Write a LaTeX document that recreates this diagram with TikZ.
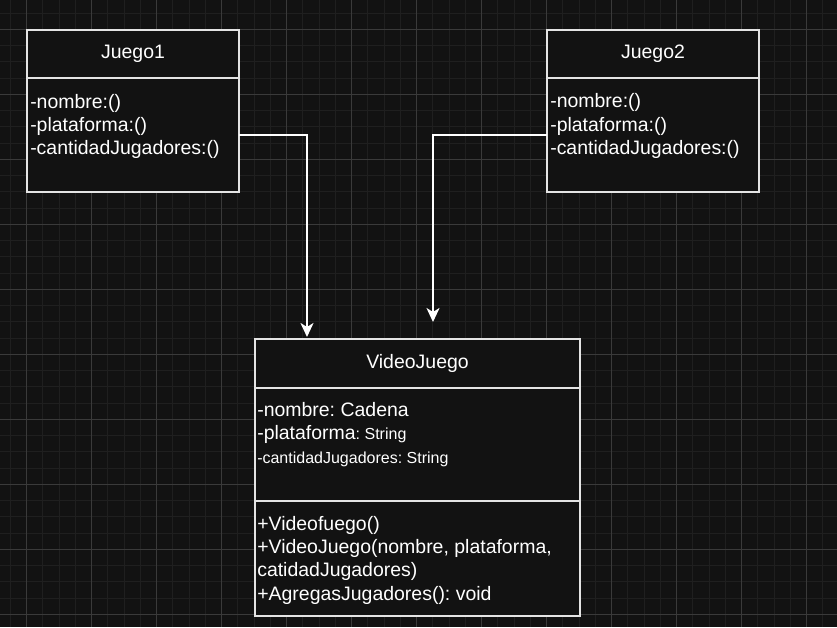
\documentclass[tikz,border=0pt]{standalone}
\usepackage{fontspec}
\setmainfont{Liberation Sans}
\usetikzlibrary{positioning,arrows.meta}

\definecolor{canvasbg}{RGB}{18,18,18}
\definecolor{minorgrid}{RGB}{31,31,31}
\definecolor{majorgrid}{RGB}{58,58,58}
\definecolor{umlline}{RGB}{228,228,228}

\newdimen\upx
\upx=0.75pt
\newcommand{\umlfont}{\fontsize{14.6}{17.5}\selectfont}
\newcommand{\umlsmall}{\fontsize{12}{17.5}\selectfont}
\frenchspacing

\tikzstyle{umlbox} = [rectangle, draw=umlline, fill=canvasbg, line width=1.5pt,
    outer sep=0pt, inner sep=0pt, text=white, font=\umlfont]
\tikzstyle{umltext} = [anchor=base west, align=left, inner sep=0pt,
    text=white, font=\umlfont]
\tikzstyle{arrow} = [draw=white, line width=1.5pt,
    -{Stealth[length=10.5pt, width=9.75pt, inset=3pt]}]

\begin{document}
\begin{tikzpicture}[x=0.75pt, y=-0.75pt]

    % Canvas and grid
    \useasboundingbox (0,0) rectangle (837,627);
    \fill [canvasbg] (0,0) rectangle (837,627);
    \foreach \i in {0,...,51}
        \draw [minorgrid, line width=0.75pt] ({10.45+16.25*\i},0) -- ({10.45+16.25*\i},627);
    \foreach \j in {0,...,38}
        \draw [minorgrid, line width=0.75pt] (0,{13.05+16.25*\j}) -- (837,{13.05+16.25*\j});
    \foreach \i in {0,...,12}
        \draw [majorgrid, line width=0.75pt] ({26.7+65*\i},0) -- ({26.7+65*\i},627);
    \foreach \j in {0,...,9}
        \draw [majorgrid, line width=0.75pt] (0,{29.3+65*\j}) -- (837,{29.3+65*\j});

    % Place nodes
    \node [umlbox, minimum width=212\upx, minimum height=48\upx] (juego1) at (133,54) {Juego1};
    \node [umlbox, minimum width=212\upx, minimum height=114\upx, below=0pt of juego1] (juego1attr) {};
    \node [umltext] (juego1list) at ([xshift=3\upx, yshift=-77\upx] juego1attr.north west)
        {-nombre:()\\-plataforma:()\\-cantidadJugadores:()};

    \node [umlbox, minimum width=212\upx, minimum height=48\upx] (juego2) at (653,54) {Juego2};
    \node [umlbox, minimum width=212\upx, minimum height=114\upx, below=0pt of juego2] (juego2attr) {};
    \node [umltext] (juego2list) at ([xshift=3\upx, yshift=-76.5\upx] juego2attr.north west)
        {-nombre:()\\-plataforma:()\\-cantidadJugadores:()};

    \node [umlbox, minimum width=325\upx, minimum height=49\upx] (videojuego) at (417.5,363.5) {VideoJuego};
    \node [umlbox, minimum width=325\upx, minimum height=113\upx, below=0pt of videojuego] (videoattr) {};
    \node [umlbox, minimum width=325\upx, minimum height=115\upx, below=0pt of videoattr] (videoops) {};
    \node [umltext] (videoattrlist) at ([xshift=2\upx, yshift=-75.3\upx] videoattr.north west)
        {-nombre: Cadena\\-plataforma{\umlsmall: String}\\{\umlsmall-cantidadJugadores: String}};
    \node [umltext] (videoopslist) at ([xshift=2\upx, yshift=-99\upx] videoops.north west)
        {+Videofuego()\\+VideoJuego(nombre, plataforma,\\catidadJugadores)\\+AgregasJugadores(): void};

    \coordinate (juego2end) at (433,322);

    % Draw edges
    \path [arrow, shorten >=1.5pt]
    (juego1attr.east) -| ([xshift=52\upx] videojuego.north west);

    \path [arrow]
    (juego2attr.west) -| (juego2end);

\end{tikzpicture}
\end{document}
